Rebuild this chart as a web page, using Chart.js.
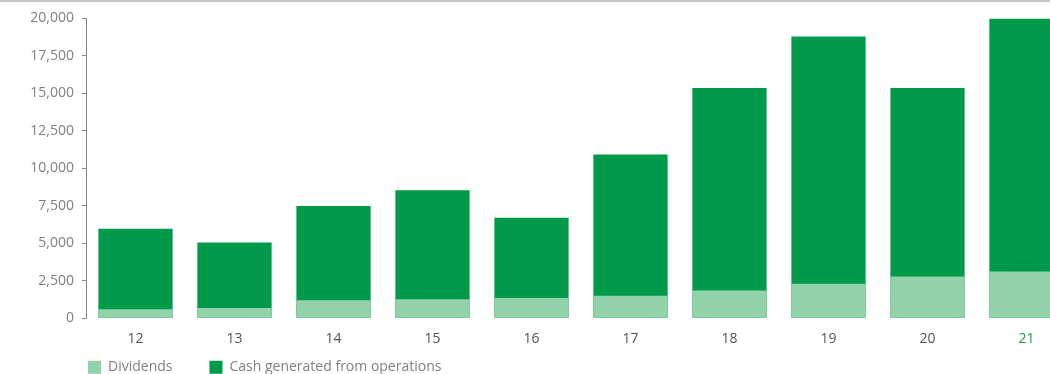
<!DOCTYPE html>
<html>
<head>
<meta charset="utf-8">
<script src="https://cdn.jsdelivr.net/npm/chart.js@4"></script>
<style>
  html, body { margin: 0; padding: 0; background: #fff; overflow: hidden; }
  .wrap { position: relative; width: 1076px; height: 412px; border-top: 2px solid #c4c4c4; box-sizing: border-box; }
</style>
</head>
<body>
<div class="wrap"><canvas id="chart"></canvas></div>
<script>
const years = ['12', '13', '14', '15', '16', '17', '18', '19', '20', '21'];
const dividends = [600, 680, 1190, 1260, 1340, 1500, 1850, 2300, 2780, 3110];
const cashGenerated = [5960, 5050, 7480, 8540, 6700, 10920, 15360, 18800, 15360, 19990];
const yTicks = [0, 2500, 5000, 7500, 10000, 12500, 15000, 17500, 20000];

const darkGreen = '#009a4a';
const lightGreen = '#92d2a8';
const greyText = '#808080';
const legendGap = 37;

// line the legend up with the plot and pull it closer to the axis labels
const legendShift = {
  id: 'legendShift',
  beforeDraw(chart) {
    const lg = chart.legend;
    if (!lg) return;
    lg.left = 88 - legendGap;
    lg.top = chart.chartArea.bottom + 42 - legendGap;
  }
};

new Chart(document.getElementById('chart'), {
  type: 'bar',
  data: {
    labels: years,
    datasets: [
      { label: 'Dividends', data: dividends, backgroundColor: lightGreen },
      { label: 'Cash generated from operations', data: cashGenerated, backgroundColor: darkGreen }
    ]
  },
  options: {
    responsive: true,
    maintainAspectRatio: false,
    animation: false,
    layout: { padding: { top: 0, left: 0, right: 0, bottom: 0 } },
    datasets: { bar: { barPercentage: 0.75, categoryPercentage: 1 } },
    scales: {
      x: {
        stacked: true,
        grid: { display: false },
        border: { display: false },
        ticks: {
          padding: 4,
          font: { family: 'Open Sans', size: 14 },
          color: (ctx) => ctx.index === years.length - 1 ? '#1a9a4a' : '#555'
        }
      },
      y: {
        stacked: false,
        min: 0,
        max: 20000,
        afterBuildTicks: (axis) => { axis.ticks = yTicks.map(v => ({ value: v })); },
        afterFit: (axis) => { axis.width = 86; },
        grid: { drawOnChartArea: false, tickLength: 4, color: '#888' },
        border: { display: true, color: '#888', width: 1 },
        ticks: {
          padding: 8,
          font: { family: 'Open Sans', size: 14 },
          color: greyText,
          callback: (v) => v.toLocaleString('en-US')
        }
      }
    },
    plugins: {
      tooltip: { enabled: false },
      legend: {
        position: 'bottom',
        align: 'start',
        labels: {
          boxWidth: 13,
          boxHeight: 13,
          padding: legendGap,
          color: greyText,
          font: { family: 'Open Sans', size: 14 }
        }
      }
    }
  },
  plugins: [legendShift]
});
</script>
</body>
</html>
